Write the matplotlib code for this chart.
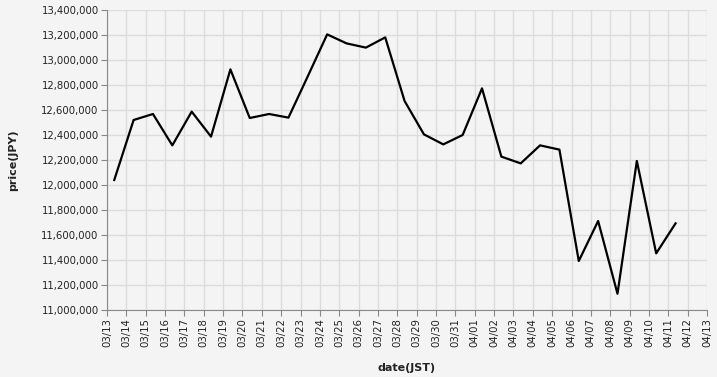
import matplotlib.pyplot as plt
import matplotlib.dates as mdates
import matplotlib.ticker as mticker
from datetime import datetime, timedelta

# daily closing price, one point per day at 09:00 JST
start = datetime(2025, 3, 13, 9, 0)
prices = [12040000, 12520000, 12568000, 12317000, 12587000, 12387000,
          12925000, 12536000, 12568000, 12539000, 12870000, 13205000,
          13133000, 13099000, 13181000, 12672000, 12405000, 12325000,
          12400000, 12773000, 12227000, 12173000, 12317000, 12283000,
          11392000, 11712000, 11130000, 12192000, 11453000, 11693000]
dates = [start + timedelta(days=i) for i in range(len(prices))]

x_start = datetime(2025, 3, 13)
x_end = datetime(2025, 4, 13)
y_min, y_max, y_step = 11000000, 13400000, 200000

bg = '#f4f4f4'
grid_col = '#dcdcdc'
axis_col = '#888888'
text_col = '#222222'

fig = plt.figure(figsize=(7.17, 3.77), dpi=100, facecolor=bg)
ax = fig.add_axes([107 / 717, 1 - 310 / 377, 600 / 717, 300 / 377])
ax.set_facecolor(bg)

ax.plot(dates, prices, color='black', linewidth=1.6, zorder=3)

ax.set_xlim(x_start, x_end)
ax.set_ylim(y_min, y_max)
ax.xaxis.set_major_locator(mdates.DayLocator())
ax.xaxis.set_major_formatter(mdates.DateFormatter('%m/%d'))
ax.yaxis.set_major_locator(mticker.MultipleLocator(y_step))
ax.yaxis.set_major_formatter(mticker.FuncFormatter(lambda v, p: f'{int(v):,}'))

ax.grid(True, color=grid_col, linewidth=1.0, zorder=0)
ax.set_axisbelow(True)
for side in ['top', 'right']:
    ax.spines[side].set_visible(False)
ax.spines['left'].set_color(axis_col)
ax.spines['bottom'].set_color(axis_col)
ax.spines['bottom'].set_linewidth(0.8)
ax.spines['left'].set_linewidth(0.8)

ax.tick_params(axis='both', colors=axis_col, labelcolor=text_col,
               labelsize=7.3, length=4, width=0.8, pad=2)
plt.setp(ax.get_xticklabels(), rotation=90)

ax.set_xlabel('date(JST)', fontsize=8, fontweight='bold', color=text_col, labelpad=11)
ax.set_ylabel('price(JPY)', fontsize=8, fontweight='bold', color=text_col, labelpad=17)

fig.savefig('out.png', dpi=100, facecolor=bg)
